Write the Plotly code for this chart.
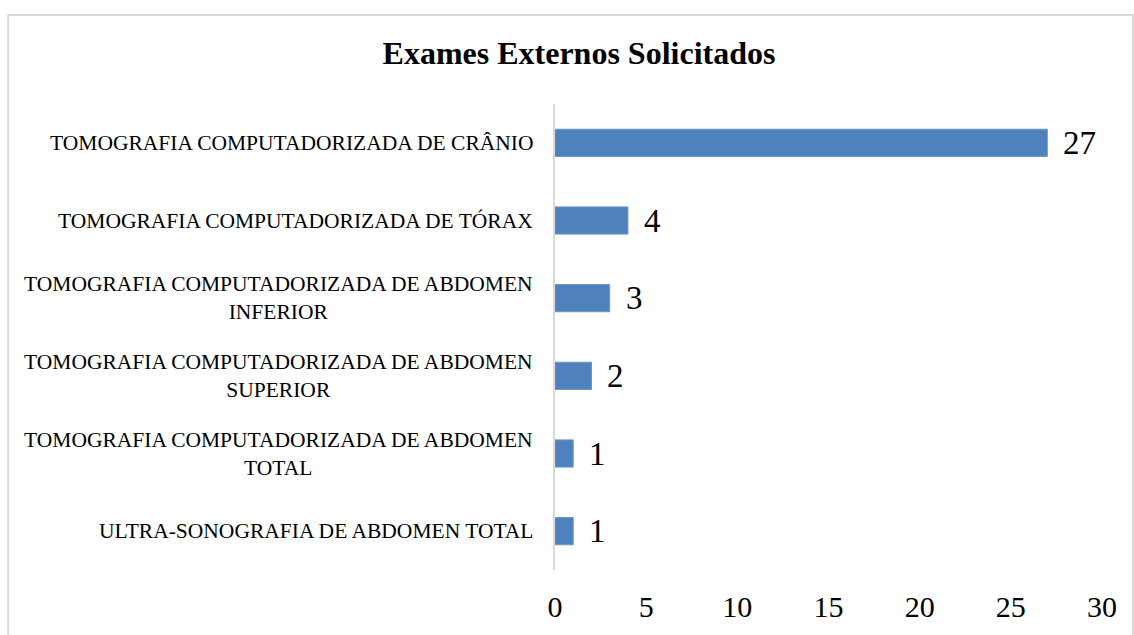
import plotly.graph_objects as go

categories = [
    "TOMOGRAFIA COMPUTADORIZADA DE CRÂNIO",
    "TOMOGRAFIA COMPUTADORIZADA DE TÓRAX",
    "TOMOGRAFIA COMPUTADORIZADA DE ABDOMEN<br>INFERIOR",
    "TOMOGRAFIA COMPUTADORIZADA DE ABDOMEN<br>SUPERIOR",
    "TOMOGRAFIA COMPUTADORIZADA DE ABDOMEN<br>TOTAL",
    "ULTRA-SONOGRAFIA DE ABDOMEN TOTAL",
]
values = [27, 4, 3, 2, 1, 1]
x_ticks = [0, 5, 10, 15, 20, 25, 30]
title_text = "Exames Externos Solicitados"

FONT = "Liberation Serif, Times New Roman, serif"
BAR = "#4F81BD"
GRID = "#D9D9D9"

W, H = 1134, 635
plot_left = 555
plot_right = 1101.7
plot_top = 104
plot_bottom = 572
pw = plot_right - plot_left
ph = plot_bottom - plot_top

fig = go.Figure(
    go.Bar(
        x=values,
        y=categories,
        orientation="h",
        marker=dict(color=BAR, line=dict(color="#6A96CC", width=1)),
        hoverinfo="x+y",
    )
)

annotations = []
for c, v in zip(categories, values):
    annotations.append(dict(
        x=0, xref="paper", y=c, yref="y", xanchor="right", yanchor="middle",
        xshift=-20, align="center", showarrow=False, text=c,
        font=dict(family=FONT, size=21.5, color="#000000"),
    ))
    annotations.append(dict(
        x=v, xref="x", y=c, yref="y", xanchor="left", yanchor="middle",
        xshift=14, showarrow=False, text=str(v),
        font=dict(family=FONT, size=33, color="#000000"),
    ))

fig.update_layout(
    width=W, height=H,
    margin=dict(l=plot_left, r=W - plot_right, t=plot_top, b=H - plot_bottom),
    paper_bgcolor="white", plot_bgcolor="white",
    bargap=0.65,
    showlegend=False,
    title=dict(
        text="<b>" + title_text + "</b>",
        x=579 / W, xanchor="center", xref="container",
        y=1 - 53 / H, yanchor="middle", yref="container",
        font=dict(family=FONT, size=32, color="#000000"),
    ),
    xaxis=dict(
        range=[0, 30], tickvals=x_ticks, ticktext=[str(t) for t in x_ticks],
        showgrid=False, zeroline=False, showline=False, ticks="",
        tickfont=dict(family=FONT, size=30, color="#000000"),
        ticklabelstandoff=16, fixedrange=True,
    ),
    yaxis=dict(
        autorange="reversed", showticklabels=False, showgrid=False,
        zeroline=False, showline=True, linecolor=GRID, linewidth=2, ticks="",
        fixedrange=True,
    ),
    annotations=annotations,
    shapes=[dict(
        type="rect", xref="paper", yref="paper",
        x0=(8.5 - plot_left) / pw, x1=(1132.5 - plot_left) / pw,
        y0=(plot_bottom - 660) / ph, y1=(plot_bottom - 14.5) / ph,
        line=dict(color=GRID, width=2), fillcolor="rgba(0,0,0,0)", layer="below",
    )],
)

fig.write_html(
    "out.html",
    config={"displayModeBar": False},
    post_script="document.body.style.margin='0';document.body.style.overflow='hidden';",
)
